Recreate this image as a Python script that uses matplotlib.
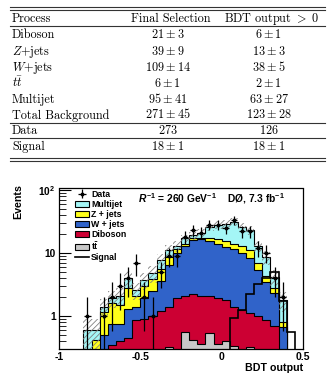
import numpy as np
import matplotlib.pyplot as plt
from matplotlib.lines import Line2D
from matplotlib.patches import Patch
from matplotlib.ticker import LogLocator, NullFormatter

plt.rcParams['font.family'] = ['Liberation Sans', 'DejaVu Sans']
plt.rcParams['font.weight'] = 'bold'
plt.rcParams['mathtext.fontset'] = 'custom'
plt.rcParams['mathtext.rm'] = 'Liberation Sans:bold'
plt.rcParams['mathtext.bf'] = 'Liberation Sans:bold'
plt.rcParams['mathtext.it'] = 'Liberation Sans:bold:italic'
plt.rcParams['hatch.linewidth'] = 0.6

# ---- table values ----
processes = ['Diboson', '$Z$+jets', '$W$+jets', r'$t\bar{t}$', 'Multijet', 'Total Background']
final_sel = [(21, 3), (39, 9), (109, 14), (6, 1), (95, 41), (271, 45)]
bdt_pos = [(6, 1), (13, 3), (38, 5), (2, 1), (63, 27), (123, 28)]
data_counts = (273, 126)
signal_counts = [(18, 1), (18, 1)]

# ---- histogram values (30 bins of 0.05 from -1 to 0.5) ----
ttbar = [0, 0, 0, 0, 0, 0, 0, 0, 0, 0, 0, 0, 0, 0.32, 0.2, 0.55, 0.42, 0.36, 0.53, 0.36,
         0.4, 0.33, 0.2, 0.32, 0.1, 0.1, 0, 0, 0, 0]
diboson = [0, 0, 0, 0, 0, 0, 0.35, 0.4, 0.45, 0.85, 0.9, 1.0, 1.2, 1.08, 1.7, 1.55, 1.78, 1.74,
           1.52, 1.59, 1.4, 1.07, 1.05, 0.78, 0.9, 0.75, 0.7, 0, 0, 0]
wjets = [0, 0, 0, 0, 0.1, 0.5, 0.4, 0.35, 0.85, 0.55, 1.0, 1.5, 2.4, 5.1, 8.1, 10.9, 13.8, 14.4,
         13.45, 12.05, 10.7, 10.1, 8.75, 7.2, 4.4, 2.65, 1.6, 0.67, 0, 0]
zjets = [0, 0, 0, 0, 0.32, 0.65, 0.85, 0.75, 1.5, 0.7, 1.1, 1.3, 1.9, 2.0, 1.5, 1.0, 1.0, 1.0,
         2.0, 2.5, 3.0, 2.5, 3.0, 2.7, 1.6, 0.8, 0.5, 0.13, 0, 0]
multijet = [0, 0, 0, 0.6, 0.18, 0.25, 0.3, 0.6, 1.2, 0.5, 0.7, 1.0, 2.1, 2.5, 1.5, 3.0, 2.0, 3.5,
            8.5, 11.5, 13.5, 17, 13, 12, 6, 4.2, 1.4, 1.0, 0, 0]
rel_unc = [0, 0, 0, 0.5, 0.5, 0.35, 0.3, 0.3, 0.3, 0.3, 0.3, 0.3, 0.25, 0.2, 0.2, 0.15, 0.15,
           0.15, 0.15, 0.15, 0.15, 0.15, 0.15, 0.15, 0.2, 0.25, 0.3, 0.35, 0, 0]
signal = [0, 0, 0, 0, 0, 0, 0, 0, 0, 0, 0, 0, 0, 0, 0, 0, 0, 0, 0, 0, 0,
          0.93, 1.25, 2.2, 3.2, 4.0, 5.0, 1.7, 0.55, 0]
data = [0, 0, 0, 1, 0, 1, 2, 3, 4, 7, 2, 1, 5, 9, 9, 18, 23, 21, 28, 28,
        25, 33, 22, 22, 12, 10, 4, 2, 0, 0]

edges = np.linspace(-1, 0.5, 31)
centers = 0.5 * (edges[:-1] + edges[1:])

W, H = 328, 378
fx = lambda px: px / W
fy = lambda py: 1 - py / H

fig = plt.figure(figsize=(W / 100, H / 100), dpi=100)

# ---- table ----
tkw = dict(fontfamily='cmr10', math_fontfamily='cm', fontsize=8.8, fontweight='normal')
lkw = dict(color='#333333', lw=0.8)
for yy in [7, 10, 26, 122.7, 138.3, 157.5, 160.5]:
    fig.add_artist(Line2D([fx(10), fx(325)], [fy(yy), fy(yy)], **lkw))

col0, col1, col2 = 12, 168, 269
fig.text(fx(col0), fy(21.7), 'Process', ha='left', va='baseline', **tkw)
fig.text(fx(170.5), fy(21.7), 'Final Selection', ha='center', va='baseline', **tkw)
fig.text(fx(271.5), fy(21.7), r'$\mathrm{BDT\ output}\ >\ 0$', ha='center', va='baseline', **tkw)
row_y = [38.3, 54.6, 70.9, 86.9, 102.9, 118.5]
for name, a, b, yy in zip(processes, final_sel, bdt_pos, row_y):
    fig.text(fx(col0), fy(yy), name, ha='left', va='baseline', **tkw)
    fig.text(fx(col1), fy(yy), r'$%d \pm %d$' % a, ha='center', va='baseline', **tkw)
    fig.text(fx(col2), fy(yy), r'$%d \pm %d$' % b, ha='center', va='baseline', **tkw)
fig.text(fx(col0), fy(134), 'Data', ha='left', va='baseline', **tkw)
fig.text(fx(col1), fy(134), '$%d$' % data_counts[0], ha='center', va='baseline', **tkw)
fig.text(fx(col2), fy(134), '$%d$' % data_counts[1], ha='center', va='baseline', **tkw)
fig.text(fx(col0), fy(149.6), 'Signal', ha='left', va='baseline', **tkw)
fig.text(fx(col1), fy(149.6), r'$%d \pm %d$' % signal_counts[0], ha='center', va='baseline', **tkw)
fig.text(fx(col2), fy(149.6), r'$%d \pm %d$' % signal_counts[1], ha='center', va='baseline', **tkw)

# ---- plot ----
ax = fig.add_axes([fx(59), fy(349), fx(303 - 59), (349 - 188.5) / H])
ax.set_yscale('log')

c_tt = np.array(ttbar)
c_db = c_tt + np.array(diboson)
c_w = c_db + np.array(wjets)
c_z = c_w + np.array(zjets)
c_mj = c_z + np.array(multijet)

colors = {'mj': '#a4f6f6', 'z': '#ffff1a', 'w': '#3063c9', 'db': '#cc0033', 'tt': '#c8c8c8'}
floor = 1e-3
for cum, col in [(c_mj, colors['mj']), (c_z, colors['z']), (c_w, colors['w']),
                 (c_db, colors['db']), (c_tt, colors['tt'])]:
    ax.stairs(np.maximum(cum, floor), edges, baseline=floor, fill=True,
              facecolor=col, edgecolor='k', lw=0.8)

# uncertainty band
unc = np.array(rel_unc) * c_mj
mask = c_mj > 0
ax.bar(edges[:-1][mask], 2 * unc[mask], bottom=(c_mj - unc)[mask], width=0.05, align='edge',
       fill=False, hatch='//////', edgecolor='#808080', lw=0)

# signal
ax.stairs(np.maximum(signal, floor), edges, baseline=floor, color='k', lw=1.2)

# data
d = np.array(data, dtype=float)
dm = d > 0
err = np.sqrt(d[dm])
eb = ax.errorbar(centers[dm], d[dm], yerr=[np.minimum(err, d[dm] * 0.999), err], xerr=0.02,
                 fmt='o', ms=1.8, color='k', lw=0.9, capsize=0)

ax.set_xlim(-1, 0.5)
ax.set_ylim(0.3, 105)
ax.set_yticks([1, 10, 100])
ax.set_yticklabels(['1', '10', r'$\mathbf{10^{2}}$'])
ax.yaxis.set_minor_locator(LogLocator(subs=np.arange(2, 10)))
ax.yaxis.set_minor_formatter(NullFormatter())
ax.tick_params(axis='y', which='major', direction='in', length=8.5, width=0.8, labelsize=7.3, pad=2.5)
ax.tick_params(axis='y', which='minor', direction='in', length=5, width=0.6)
ax.set_xticks([-1, -0.5, 0, 0.5])
ax.set_xticklabels(['-1', '-0.5', '0', '0.5'])
ax.tick_params(axis='x', length=0, labelsize=7.5, pad=2.5)
for s in ax.spines.values():
    s.set_linewidth(0.9)

fig.text(fx(18.5), fy(202), 'Events', rotation=90, ha='center', va='center', fontsize=7.7)
fig.text(fx(303), fy(368), 'BDT output', ha='right', va='center', fontsize=7.7)
fig.text(fx(138), fy(198.5), r'$\mathit{R}^{-1}$ = 260 GeV$^{-1}$', ha='left', va='center', fontsize=7.4)
fig.text(fx(227), fy(198.5), r'DØ, 7.3 fb$^{-1}$', ha='left', va='center', fontsize=7.4)

handles = [eb,
           Patch(facecolor=colors['mj'], edgecolor='k', lw=0.8),
           Patch(facecolor=colors['z'], edgecolor='k', lw=0.8),
           Patch(facecolor=colors['w'], edgecolor='k', lw=0.8),
           Patch(facecolor=colors['db'], edgecolor='k', lw=0.8),
           Patch(facecolor=colors['tt'], edgecolor='k', lw=0.8),
           Line2D([], [], color='k', lw=1.2)]
labels = ['Data', 'Multijet', 'Z + jets', 'W + jets', 'Diboson', r'$\mathrm{t\bar{t}}$', 'Signal']
ax.legend(handles, labels, loc='upper left', bbox_to_anchor=(fx(75), fy(190)),
          bbox_transform=fig.transFigure, frameon=False, fontsize=6.3, handlelength=1.6,
          handleheight=0.77, handletextpad=0.25, labelspacing=0.12, borderpad=0, borderaxespad=0)

fig.savefig('out.png', dpi=100)
